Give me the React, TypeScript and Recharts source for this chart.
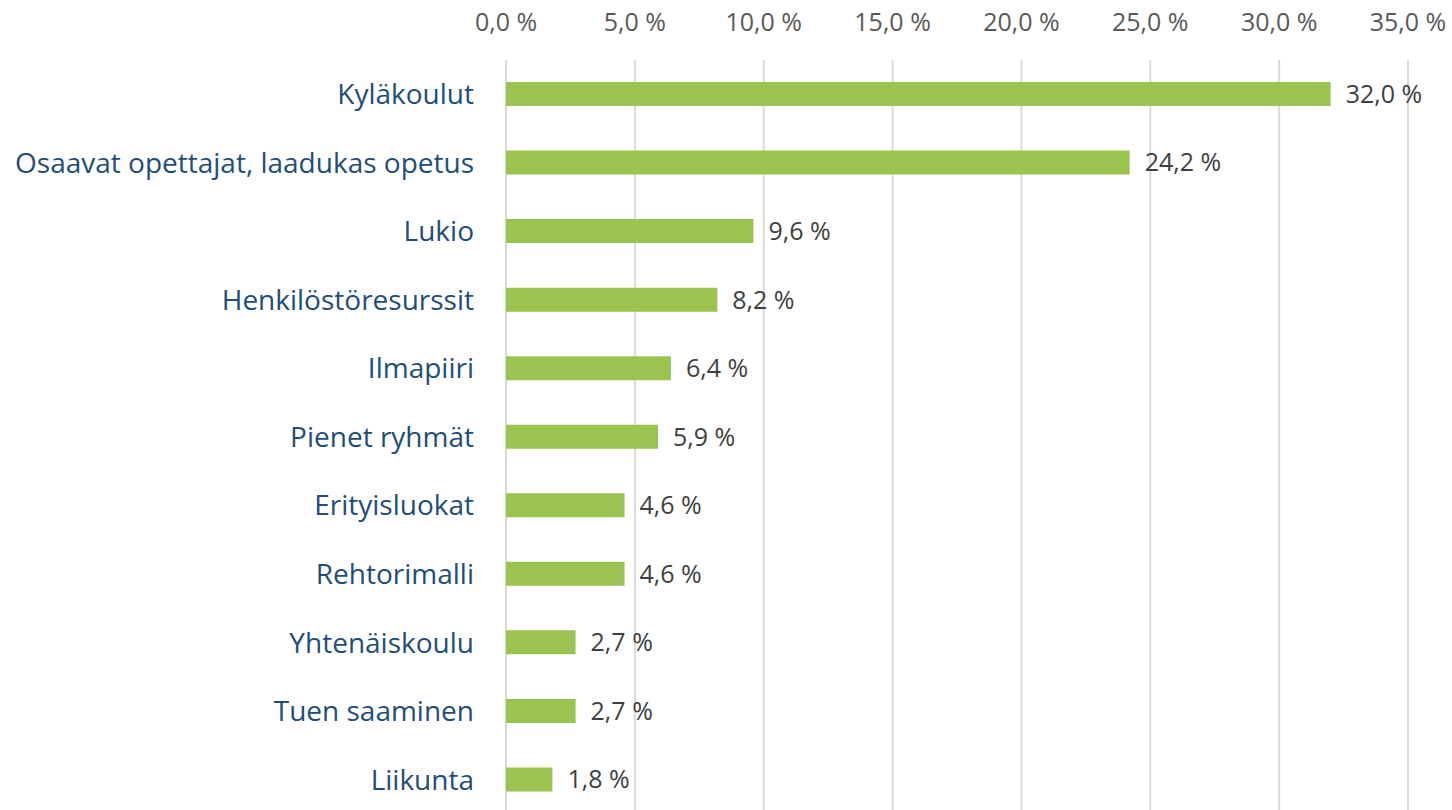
import { Bar, BarChart, CartesianGrid, LabelList, XAxis, YAxis } from 'recharts';

const CATEGORIES = [
  'Kyläkoulut',
  'Osaavat opettajat, laadukas opetus',
  'Lukio',
  'Henkilöstöresurssit',
  'Ilmapiiri',
  'Pienet ryhmät',
  'Erityisluokat',
  'Rehtorimalli',
  'Yhtenäiskoulu',
  'Tuen saaminen',
  'Liikunta',
];
const SHARES = [32.0, 24.2, 9.6, 8.2, 6.4, 5.9, 4.6, 4.6, 2.7, 2.7, 1.8];
const TICKS = [0, 5, 10, 15, 20, 25, 30, 35];

const BAR = '#9BC34F';
const GRID = '#D9D9D9';
const FONT = '"Open Sans", Lato, sans-serif';

const pct = (v: number) => `${v.toFixed(1).replace('.', ',')} %`;

const data = CATEGORIES.map((name, i) => ({ name, share: SHARES[i] }));

export default function App() {
  return (
    <div style={{ position: 'absolute', left: 0, top: 0, width: 1452, height: 810, overflow: 'hidden', background: '#fff' }}>
      <BarChart
        width={1452}
        height={814}
        data={data}
        layout="vertical"
        margin={{ top: 0, right: 44, bottom: 0, left: 0 }}
        style={{ fontFamily: FONT }}
      >
        <CartesianGrid horizontal={false} stroke={GRID} strokeWidth={2} />
        <XAxis
          type="number"
          orientation="top"
          domain={[0, 35]}
          ticks={TICKS}
          tickFormatter={pct}
          height={60}
          axisLine={false}
          tickLine={false}
          tickSize={0}
          tickMargin={29}
          tick={{ fill: '#595959', fontSize: 25 }}
          interval={0}
        />
        <YAxis
          type="category"
          dataKey="name"
          width={506}
          axisLine={false}
          tickLine={false}
          tickSize={0}
          tickMargin={32}
          tick={{ fill: '#1F4E79', fontSize: 28 }}
          interval={0}
        />
        <Bar dataKey="share" fill={BAR} barSize={24} isAnimationActive={false}>
          <LabelList dataKey="share" position="right" offset={15} formatter={(v: any) => pct(Number(v))} fill="#404040" fontSize={25} />
        </Bar>
      </BarChart>
    </div>
  );
}
